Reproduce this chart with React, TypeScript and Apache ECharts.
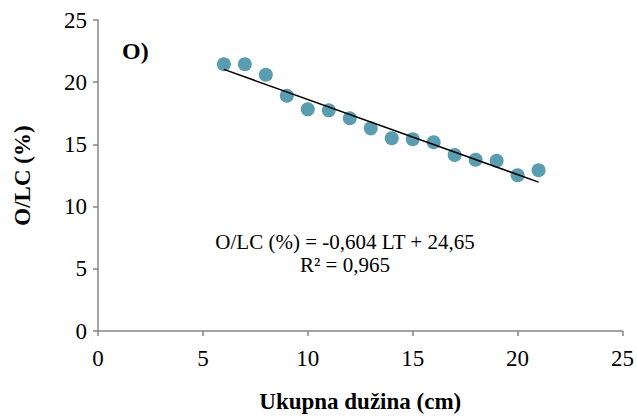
import React, { useEffect, useRef } from "react";
import * as echarts from "echarts";

const xValues = [6, 7, 8, 9, 10, 11, 12, 13, 14, 15, 16, 17, 18, 19, 20, 21];
const yValues = [21.44, 21.44, 20.6, 18.91, 17.82, 17.74, 17.1, 16.29, 15.49, 15.41, 15.17, 14.15, 13.77, 13.69, 12.52, 12.92];
const trendX = [6, 21];
const trendY = [21.03, 11.97];
const xAxisName = "Ukupna dužina (cm)";
const yAxisName = "O/LC (%)";
const panelLabel = "O)";
const equationLines = ["O/LC (%) = -0,604 LT + 24,65", "R² = 0,965"];

const FONT = "'Liberation Serif', 'Times New Roman', serif";

export default function App() {
  const ref = useRef<HTMLDivElement>(null);
  useEffect(() => {
    if (!ref.current) return;
    const chart = echarts.init(ref.current, undefined, { renderer: "svg" });
    const axisLine = { show: true, lineStyle: { color: "#868686", width: 1.5 } };
    chart.setOption({
      animation: false,
      backgroundColor: "#ffffff",
      grid: { left: 98, right: 13, top: 20, bottom: 88, containLabel: false },
      xAxis: {
        type: "value",
        min: 0,
        max: 25,
        interval: 5,
        name: xAxisName,
        nameLocation: "middle",
        nameGap: 59,
        nameTextStyle: { fontFamily: FONT, fontSize: 23, fontWeight: "bold", color: "#000" },
        axisLine,
        axisTick: { show: true, length: 5, lineStyle: { color: "#868686", width: 1.5 } },
        axisLabel: { fontFamily: FONT, fontSize: 23, color: "#000", margin: 16 },
        splitLine: { show: false },
      },
      yAxis: {
        type: "value",
        min: 0,
        max: 25,
        interval: 5,
        name: yAxisName,
        nameLocation: "middle",
        nameGap: 64,
        nameRotate: 90,
        nameTextStyle: { fontFamily: FONT, fontSize: 23, fontWeight: "bold", color: "#000" },
        axisLine,
        axisTick: { show: true, length: 5, lineStyle: { color: "#868686", width: 1.5 } },
        axisLabel: { fontFamily: FONT, fontSize: 23, color: "#000", margin: 11 },
        splitLine: { show: false },
      },
      series: [
        {
          type: "scatter",
          data: xValues.map((x, i) => [x, yValues[i]]),
          symbol: "circle",
          symbolSize: 14,
          itemStyle: { color: "#31859C" },
          z: 2,
        },
        {
          type: "line",
          data: trendX.map((x, i) => [x, trendY[i]]),
          symbol: "none",
          lineStyle: { color: "#000", width: 1.5 },
          z: 3,
        },
      ],
      graphic: [
        {
          type: "text",
          left: 122,
          top: 39,
          style: { text: panelLabel, fontFamily: FONT, fontSize: 24, fontWeight: "bold", fill: "#000" },
        },
        {
          type: "text",
          x: 345,
          y: 242,
          style: {
            text: equationLines[0],
            fontFamily: FONT,
            fontSize: 21,
            fill: "#000",
            align: "center",
            verticalAlign: "middle",
          },
        },
        {
          type: "text",
          x: 345,
          y: 265,
          style: {
            text: equationLines[1],
            fontFamily: FONT,
            fontSize: 21,
            fill: "#000",
            align: "center",
            verticalAlign: "middle",
          },
        },
      ],
    });
    return () => chart.dispose();
  }, []);
  return <div ref={ref} style={{ width: 637, height: 419, position: "absolute", left: 0, top: 0 }} />;
}
